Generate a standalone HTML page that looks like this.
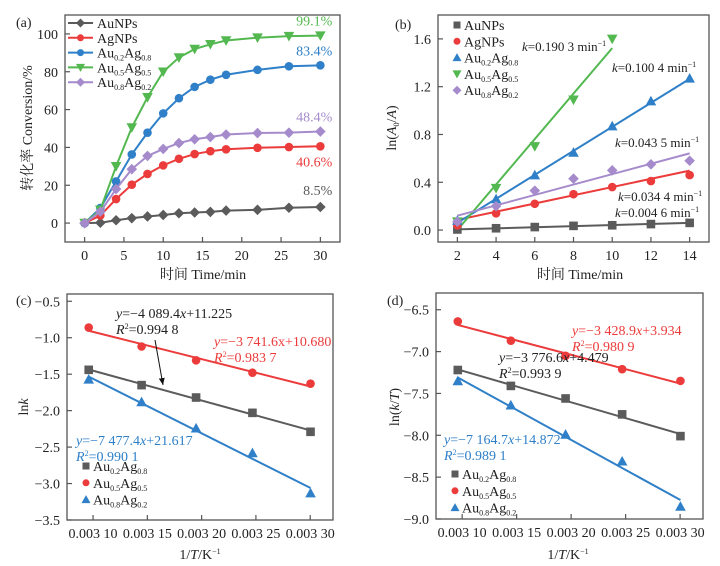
<!DOCTYPE html>
<html><head><meta charset="utf-8">
<style>
html,body{margin:0;padding:0;background:#fff;}
svg{display:block;font-family:"Liberation Serif","Noto Serif CJK SC","Noto Sans CJK SC",serif;}
</style></head>
<body>
<svg id="fig" width="720" height="566" viewBox="0 0 720 566" xmlns="http://www.w3.org/2000/svg">
<defs><marker id="arr" markerWidth="8" markerHeight="8" refX="7" refY="4" orient="auto"><path d="M0,1 L7,4 L0,7 z" fill="#111"/></marker></defs>
</svg>
<script>
// ---------- Panel (a) data ----------
const aTimes=[0,2,4,6,8,10,12,14,16,18,22,26,30];
const aAuNPs=[0,0.2,1.5,2.6,3.5,4.3,5.2,5.6,5.9,6.6,7,8.1,8.5];
const aAgNPs=[0,4,12.7,20.3,26,30.5,34,36.5,38,39,39.8,40.2,40.6];
const aAu02=[0,8,22,36.3,47.8,58,66,72,75.8,78.4,81,82.9,83.4];
const aAu05=[0,7,30,50.5,66.5,80,87.5,92,94.5,96.5,98,98.8,99.1];
const aAu08=[0,6,18,28.5,35.5,39.2,42.3,44.3,45.5,46.8,47.6,47.8,48.4];
const aXTicks=[0,5,10,15,20,25,30];
const aYTicks=[0,20,40,60,80,100];
const aEndLabels=["8.5%","40.6%","83.4%","99.1%","48.4%"];
// ---------- Panel (b) data ----------
const bTimes=[2,4,6,8,10,12,14];
const bAuNPs=[0.005,0.015,0.025,0.035,0.04,0.05,0.06];
const bAgNPs=[0.04,0.14,0.22,0.3,0.36,0.41,0.46];
const bAu02=[0.08,0.26,0.46,0.65,0.87,1.08,1.27];
const bAu05=[0.07,0.35,0.7,1.09,1.6];
const bAu08=[0.07,0.2,0.33,0.43,0.5,0.55,0.58];
const bSlopes=[0.0046,0.0344,0.1004,0.1903,0.0435];
const bIntercepts=[-0.004,0.016,-0.14,-0.38,0.033];
const bXTicks=[2,4,6,8,10,12,14];
const bYTicks=[0,0.4,0.8,1.2,1.6];
const bYTickLabels=["0.0","0.4","0.8","1.2","1.6"];
// ---------- Panels (c),(d) data ----------
const invT=[0.0030960,0.0031447,0.0031949,0.0032468,0.0033003];
const cAu02=[-1.44,-1.65,-1.82,-2.03,-2.29];
const cAu05=[-0.86,-1.12,-1.31,-1.48,-1.63];
const cAu08=[-1.57,-1.88,-2.24,-2.58,-3.13];
const cSlopes=[-4089.4,-3741.6,-7477.4];
const cIntercepts=[11.225,10.680,21.617];
const cYTicks=[-0.5,-1.0,-1.5,-2.0,-2.5,-3.0,-3.5];
const cYTickLabels=["−0.5","−1.0","−1.5","−2.0","−2.5","−3.0","−3.5"];
const dAu02=[-7.22,-7.41,-7.56,-7.75,-8.01];
const dAu05=[-6.64,-6.87,-7.05,-7.21,-7.35];
const dAu08=[-7.35,-7.64,-7.99,-8.31,-8.85];
const dSlopes=[-3776.6,-3428.9,-7164.7];
const dIntercepts=[4.479,3.934,14.872];
const dYTicks=[-6.5,-7.0,-7.5,-8.0,-8.5,-9.0];
const dYTickLabels=["−6.5","−7.0","−7.5","−8.0","−8.5","−9.0"];
const tXTicks=[0.00310,0.00315,0.00320,0.00325,0.00330];
const tXTickLabels=["0.003 10","0.003 15","0.003 20","0.003 25","0.003 30"];

const GREY="#5b5b5b",RED="#ec3b3b",BLUE="#2f80c8",GREEN="#52b84f",PURPLE="#a58bcb";
const svg=document.getElementById('fig');
const NS="http://www.w3.org/2000/svg";
function mk(tag,attrs,parent){const e=document.createElementNS(NS,tag);for(const k in attrs)e.setAttribute(k,attrs[k]);(parent||svg).appendChild(e);return e;}
function scale(d0,d1,r0,r1){return v=>r0+(v-d0)*(r1-r0)/(d1-d0);}
function txt(x,y,html,opts,g){const t=mk('text',Object.assign({x:x,y:y,'font-size':14,fill:'#222'},opts||{}),g);t.innerHTML=html;return t;}

function marker(g,shape,x,y,c,r){
  r=r||4.3;let e;
  if(shape==='circle')e=mk('circle',{cx:x,cy:y,r:r,fill:c},g);
  else if(shape==='square')e=mk('rect',{x:x-r,y:y-r,width:2*r,height:2*r,fill:c},g);
  else if(shape==='diamond')e=mk('polygon',{points:`${x},${y-r-1} ${x+r+1},${y} ${x},${y+r+1} ${x-r-1},${y}`,fill:c},g);
  else if(shape==='up')e=mk('polygon',{points:`${x},${y-r-1} ${x+r+1},${y+r} ${x-r-1},${y+r}`,fill:c},g);
  else e=mk('polygon',{points:`${x},${y+r+1} ${x+r+1},${y-r} ${x-r-1},${y-r}`,fill:c},g);
  return e;
}

function axes(name,L,R,T,B,sx,sy,xt,xtl,yt,ytl){
  const g=mk('g',{});
  
  
  mk('rect',{x:L,y:T,width:R-L,height:B-T,fill:'none',stroke:'#555','stroke-width':1.3},g);
  xt.forEach((v,i)=>{const x=sx(v);mk('line',{x1:x,x2:x,y1:B,y2:B-5,stroke:'#555','stroke-width':1.2},g);
    const t=txt(x,B+18,xtl?xtl[i]:String(v),{'text-anchor':'middle'},g);
    
    });
  yt.forEach((v,i)=>{const y=sy(v);mk('line',{x1:L,x2:L+5,y1:y,y2:y,stroke:'#555','stroke-width':1.2},g);
    const t=txt(L-7,y+5,ytl?ytl[i]:String(v),{'text-anchor':'end'},g);
    
    });
  return g;
}
function series(name,g,xs,ys,sx,sy,c,shape,withLine){
  const sg=mk('g',{},g);
  
  
  if(withLine){mk('polyline',{points:ys.map((v,i)=>sx(xs[i])+','+sy(v)).join(' '),fill:'none',stroke:c,'stroke-width':2},sg);}
  ys.forEach((v,i)=>{const m=marker(sg,shape,sx(xs[i]),sy(v),c);
    
    });
}
function fitLine(name,g,x0,x1,k,b,sx,sy,c){
  const l=mk('line',{x1:sx(x0),y1:sy(k*x0+b),x2:sx(x1),y2:sy(k*x1+b),stroke:c,'stroke-width':2},g);
  
  
}
function legend(g,x,y0,dy,items,withLine){
  const lg=mk('g',{},g);
  
  
  items.forEach((it,i)=>{const y=y0+i*dy;
    const eg=mk('g',{},lg);
    
    
    if(withLine){mk('line',{x1:x,x2:x+25,y1:y,y2:y,stroke:it[1],'stroke-width':2},eg);marker(eg,it[2],x+12.5,y,it[1],3.5);txt(x+29,y+5,it[0],{},eg);}
    else{marker(eg,it[2],x,y,it[1],3.5);txt(x+7,y+5,it[0],{},eg);}
  });
}
const sub=(a,b)=>`Au<tspan font-size="8" dy="3">${a}</tspan><tspan dy="-3">Ag</tspan><tspan font-size="8" dy="3">${b}</tspan>`;

// ---------- (a) ----------
{
 const L=65,R=340,T=15,B=242;
 const sx=scale(-2.5,32.5,L,R), sy=scale(-10,110,B,T);
 const g=axes('panel-a',L,R,T,B,sx,sy,aXTicks,null,aYTicks,null);
 series('aunps-series',g,aTimes,aAuNPs,sx,sy,GREY,'diamond',true);
 series('agnps-series',g,aTimes,aAgNPs,sx,sy,RED,'circle',true);
 series('au02ag08-series',g,aTimes,aAu02,sx,sy,BLUE,'circle',true);
 series('au05ag05-series',g,aTimes,aAu05,sx,sy,GREEN,'down',true);
 series('au08ag02-series',g,aTimes,aAu08,sx,sy,PURPLE,'diamond',true);
 const cols=[GREY,RED,BLUE,GREEN,PURPLE], last=[aAuNPs,aAgNPs,aAu02,aAu05,aAu08];
 const offs=[-12,20,-10,-10,-10];
 aEndLabels.forEach((s,i)=>{const t=txt(sx(30)+12,sy(last[i][12])+offs[i],s,{'text-anchor':'end',fill:cols[i]},g);
   
   });
 legend(g,68,23,14.8,[["AuNPs",GREY,'diamond'],["AgNPs",RED,'circle'],[sub('0.2','0.8'),BLUE,'circle'],[sub('0.5','0.5'),GREEN,'down'],[sub('0.8','0.2'),PURPLE,'diamond']],true);
 txt(16,27,"(a)",{},g);
 const yt=txt(0,0,"转化率 Conversion/%",{'text-anchor':'middle',transform:'translate(32,128) rotate(-90)'},g);
 
 const xt=txt(203,279,"时间 Time/min",{'text-anchor':'middle'},g);
 
}
// ---------- (b) ----------
{
 const L=438,R=709,T=15,B=242;
 const sx=scale(1,15,L,R), sy=scale(-0.1,1.8,B,T);
 const g=axes('panel-b',L,R,T,B,sx,sy,bXTicks,null,bYTicks,bYTickLabels);
 const cols=[GREY,RED,BLUE,GREEN,PURPLE];
 const ends=[14,14,14,10,14];
 bSlopes.forEach((k,i)=>fitLine('fit-line-b',g,2,ends[i],k,bIntercepts[i],sx,sy,cols[i]));
 series('aunps-points',g,bTimes,bAuNPs,sx,sy,GREY,'square',false);
 series('agnps-points',g,bTimes,bAgNPs,sx,sy,RED,'circle',false);
 series('au02ag08-points',g,bTimes,bAu02,sx,sy,BLUE,'up',false);
 series('au05ag05-points',g,bTimes,bAu05,sx,sy,GREEN,'down',false);
 series('au08ag02-points',g,bTimes,bAu08,sx,sy,PURPLE,'diamond',false);
 legend(g,457,25,16.3,[["AuNPs",GREY,'square'],["AgNPs",RED,'circle'],[sub('0.2','0.8'),BLUE,'up'],[sub('0.5','0.5'),GREEN,'down'],[sub('0.8','0.2'),PURPLE,'diamond']],false);
 const kl=(x,y,s)=>{const t=txt(x,y,`<tspan font-style="italic">k</tspan>=${s} min<tspan font-size="8" dy="-5">−1</tspan>`,{'font-size':13},g);
   };
 kl(522,51,"0.190 3");kl(612,72,"0.100 4");kl(615,147,"0.043 5");kl(618,201,"0.034 4");kl(615,217,"0.004 6");
 txt(395,29,"(b)",{},g);
 const yt=txt(0,0,`ln(<tspan font-style="italic">A</tspan><tspan font-size="8" dy="3">0</tspan><tspan dy="-3">/</tspan><tspan font-style="italic">A</tspan>)`,{'text-anchor':'middle',transform:'translate(396,128) rotate(-90)'},g);
 
 const xt=txt(580,279,"时间 Time/min",{'text-anchor':'middle'},g);
 
}
function arrPanel(name,L,R,T,B,ymin,ymax,yt,ytl,s02,s05,s08,ks,bs,lbl,ytitle,xtc){
 const sx=scale(0.003076,0.003321,L,R), sy=scale(ymin,ymax,B,T);
 const g=axes(name,L,R,T,B,sx,sy,tXTicks,tXTickLabels,yt,ytl);
 const cols=[GREY,RED,BLUE];
 ks.forEach((k,i)=>fitLine('fit-line',g,invT[0],invT[4],k,bs[i],sx,sy,cols[i]));
 series('au02ag08-points',g,invT,s02,sx,sy,GREY,'square',false);
 series('au05ag05-points',g,invT,s05,sx,sy,RED,'circle',false);
 series('au08ag02-points',g,invT,s08,sx,sy,BLUE,'up',false);
 txt(lbl[0],lbl[1],lbl[2],{},g);
 const y=txt(0,0,ytitle,{'text-anchor':'middle',transform:`translate(${lbl[0]+12},407) rotate(-90)`},g);
 
 const x=txt(xtc,559,`1/<tspan font-style="italic">T</tspan>/K<tspan font-size="8" dy="-5">−1</tspan>`,{'text-anchor':'middle'},g);
 
 return g;
}
function eq(g,x,y,s,r,c){
 const t1=txt(x,y,`<tspan font-style="italic">y</tspan>=${s}`,{fill:c},g);
 
 const t2=txt(x,y+16,`<tspan font-style="italic">R</tspan><tspan font-size="8" dy="-5">2</tspan><tspan dy="5">=${r}</tspan>`,{fill:c},g);
 
}
// ---------- (c) ----------
{
 const g=arrPanel('panel-c',67,333,294,520,-3.5,-0.4,cYTicks,cYTickLabels,cAu02,cAu05,cAu08,cSlopes,cIntercepts,[16,305,"(c)"],`ln<tspan font-style="italic">k</tspan>`,200);
 eq(g,116,318,`−4 089.4<tspan font-style="italic">x</tspan>+11.225`,"0.994 8","#222");
 eq(g,214,346,`−3 741.6x+10.680`,"0.983 7",RED);
 eq(g,76,445,`−7 477.4<tspan font-style="italic">x</tspan>+21.617`,"0.990 1",BLUE);
 mk('line',{x1:155,y1:340,x2:163,y2:385,stroke:'#111','stroke-width':1,'marker-end':'url(#arr)'},g);
 legend(g,86,466,16.8,[[sub('0.2','0.8'),GREY,'square'],[sub('0.5','0.5'),RED,'circle'],[sub('0.8','0.2'),BLUE,'up']],false);
}
// ---------- (d) ----------
{
 const g=arrPanel('panel-d',436,703,293,519,-9.0,-6.3,dYTicks,dYTickLabels,dAu02,dAu05,dAu08,dSlopes,dIntercepts,[387,305,"(d)"],`ln(<tspan font-style="italic">k</tspan>/<tspan font-style="italic">T</tspan>)`,568);
 eq(g,572,335,`−3 428.9<tspan font-style="italic">x</tspan>+3.934`,"0.980 9",RED);
 eq(g,499,362,`−3 776.6<tspan font-style="italic">x</tspan>+4.479`,"0.993 9","#222");
 eq(g,444,444,`−7 164.7<tspan font-style="italic">x</tspan>+14.872`,"0.989 1",BLUE);
 legend(g,455,474,16.8,[[sub('0.2','0.8'),GREY,'square'],[sub('0.5','0.5'),RED,'circle'],[sub('0.8','0.2'),BLUE,'up']],false);
}
</script>
</body></html>
